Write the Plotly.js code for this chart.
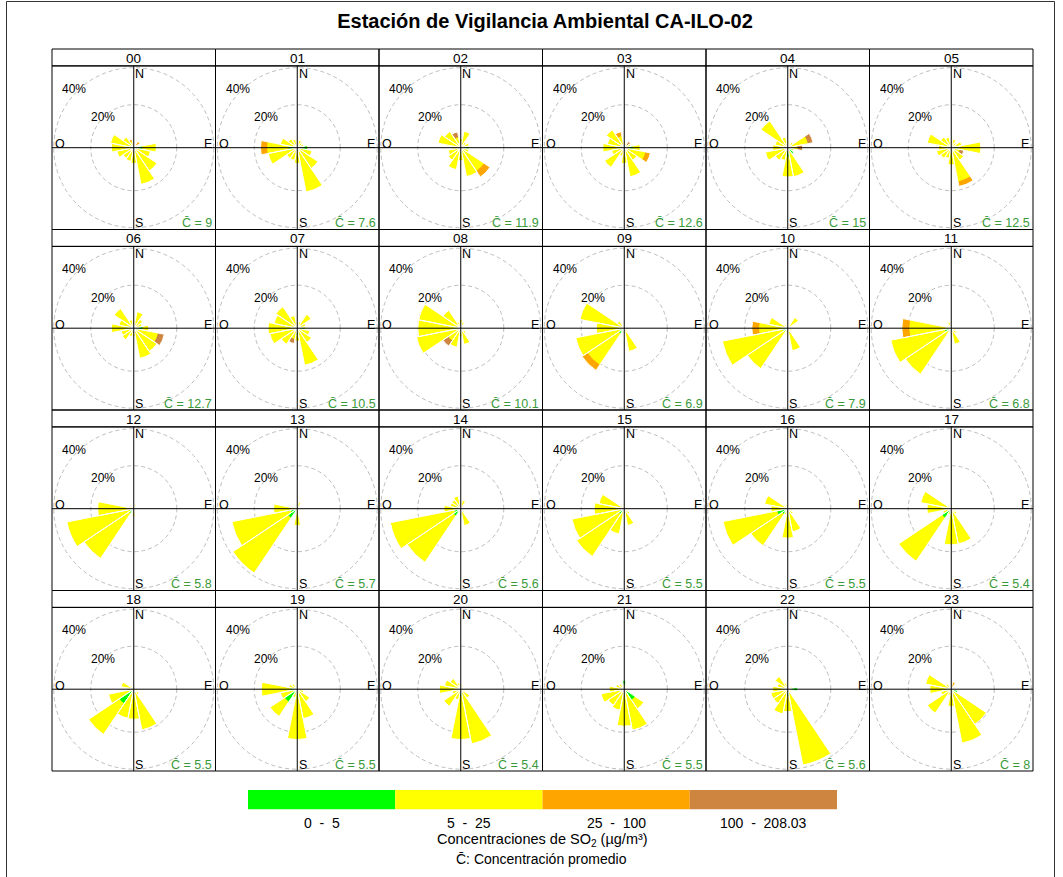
<!DOCTYPE html>
<html><head><meta charset="utf-8">
<script src="https://cdn.plot.ly/plotly-3.0.1.min.js"></script>
<style>html,body{margin:0;padding:0;background:#fff;}#chart{width:1063px;height:877px;}</style>
</head><body><div id="chart"></div>
<script>
// ---------------- DATA ----------------
const titleText = 'Estación de Vigilancia Ambiental CA-ILO-02';
const hours = ['00','01','02','03','04','05','06','07','08','09','10','11','12','13','14','15','16','17','18','19','20','21','22','23'];
// compass bearings of the 16 direction sectors (N, NNE, ... NNW)
const directions = [0,22.5,45,67.5,90,112.5,135,157.5,180,202.5,225,247.5,270,292.5,315,337.5];
const compassLabels = ['N','E','S','O'];
const ringLabels = ['20%','40%'];
const meanConc = [9,7.6,11.9,12.6,15,12.5,12.7,10.5,10.1,6.9,7.9,6.8,5.8,5.7,5.6,5.5,5.5,5.4,5.5,5.5,5.4,5.5,5.6,8];
const classLabels = ['0 - 5','5 - 25','25 - 100','100 - 208.03'];
const unitsText = 'Concentraciones de SO<sub>2</sub> (µg/m³)';
const meanText = 'C\u0304: Concentración promedio';

// frequency (%) per direction, class 0-5
const pctGreen = [
  [0,0,0,0,4,0,0,0,0,0,0,0,0,0,0,0],
  [0,0,0,0,4.5,0,0,0,0,0,0,0,4,0,0,0],
  [0,0,0,0,3.5,0,0,0,0,0,0,0,0,0,0,0],
  [0,0,0,0,3.9,0,0,0,0,0,0,0,0,0,0,0],
  [0,0,0,0,0,2,3.5,0,4,0,0,0,0,0,0,0],
  [0,0,0,0,3,1.5,0,0,0,0,0,0,0,0,0,0],
  [0,0,0,0,4,2,0,0,2,0,0,0,0,0,0,0],
  [0,0,0,0,3,0,0,0,3,0,0,0,0,0,0,0],
  [0,0,0,0,0,0,0,0,0,0,0,0,0,0,0,0],
  [0,0,0,0,0,0,0,0,0,0,3,2,0,0,0,0],
  [0,0,0,0,0,0,0,0,0,0,2,2.5,0,0,0,0],
  [0,0,0,0,0,0,0,0,0,0,2,3,2,0,0,0],
  [0,0,0,0,0,0,0,0,0,0,2.5,2,0,0,0,0],
  [0,0,0,0,0,0,0,0,0,0,5,3,0,0,0,0],
  [0,0,0,0,0,0,0,0,0,0,4,3,0,0,0,0],
  [0,0,0,0,0,0,0,0,0,0,3,2,0,0,0,0],
  [0,0,0,0,0,0,0,0,0,0,3,5,0,0,0,0],
  [0,0,0,0,0,0,0,0,2,0,5,0,0,0,0,0],
  [0,0,0,0,0,0,0,0,0,0,8,0,0,0,0,0],
  [0,0,0,0,0,0,0,0,2,0,7,0,3,0,0,0],
  [0,0,0,0,0,0,0,0,3,0,0,0,0,0,0,0],
  [4,0,0,0,0,0,6,0,0,0,0,0,0,0,0,0],
  [0,0,0,0,4.5,0,0,0,3,0,0,0,0,0,0,0],
  [0,0,0,0,0,3,0,0,0,0,0,0,0,0,0,0]
];
// class 5-25
const pctYellow = [
  [2,1.5,1,2,6.5,8,13,17.4,7.3,6.5,6,8,10.4,11,6,3],
  [2,3.5,3,3,0.5,7,11.6,21,7.3,6,6,13.8,10,8,5,4],
  [4.3,7.8,3,4,0.5,4,13,13.7,6,10.4,7,6,4,10.8,9.1,5],
  [3,2,1.5,3,3.5,10,7,13.8,7.3,4,11,6,10,8,10,5.5],
  [3,2,3,9.5,4.5,1,0,13.8,9.6,6,7,10.6,7,6,15,5],
  [3,4,3,5,10.8,2.5,7,16,8,5,6,7,6,11.4,6,5],
  [3,7.8,5,4,3,9.5,13,14.3,2,4,6.5,6,10.4,7,11,4],
  [3,3,7.8,4,1,6,8,17.6,3,5.2,9,13,13.6,11,12,6],
  [4,3,1,1,1,2,3,7.7,4,9,7,21,20,20,10,3],
  [1,1,1,1,2,1,2,11,2,2,17.5,21,13,21,4,1],
  [1,2,6,1,1,2,2,10.7,2,2,20.6,28.5,13.3,9,2,1],
  [1,1,1,1,1,2,3,7.6,2,2,23.7,25.7,17.5,2,2,3],
  [1,2,1,0.5,0.5,0.5,1,1,3.5,1,25.3,29.7,16.8,2,1,1],
  [1,3,1,0.5,0.5,0.5,1,1,7.8,1,31,28,11,1,1,1],
  [2,4,1,1,1,1,2,8,2,2,26,30.4,7.8,5,5,6],
  [1,1,1,1,1,2,3,8,3,12,23.7,22.8,14,12,2,2],
  [1,1,1,1,1,2,3,11,13.7,3,17.7,25.7,7.8,11,2,2],
  [1,1,1,1,1,2,3,16.7,14.8,3,24.4,4,11.3,14.5,2,1],
  [1,1,1,1,1,2,3,19.3,14,13.8,17.3,12,3,6,2,1],
  [1,1,1,1,1,3,7,14,21.4,4,8.2,8,13.7,4,3,1],
  [2,2,1,1,1,2,5,25.9,20.4,5,9.5,4,10,7.7,6,3],
  [0,2,1,1,1,2,5,19.4,17.2,10,9,11,7,4,3,2],
  [1,1,1,2,0,1,2,36,7.5,11.7,8,8,7,5,7.1,3],
  [1,0,1,1,1,0,19.7,25.6,8,3,13.4,5,10,12.2,3,2]
];
// class 25-100
const pctOrange = [
  [0,0,2.5,0,0,0,0,0,0,0,0,0,0,0,0,1],
  [0,0,0,0,0,0,0,0,0,0,0,0,3.1,0,0,0],
  [0,0,0,0,0,0,3.4,0,0,0,0,0,0,0,0,0],
  [0,0,0,0,0,2.4,0,0,0,0,0,0,0,0,0,2.1],
  [0,0,0,0,0,0,0,0,0,0,0,0,0,0,0,0],
  [0,0,0,0,0,0,0,2.4,0,0,0,0,0,0,0,0],
  [0,0,0,0,0,0,0,0,0,0,0,0,0,0,0,0],
  [0,0,0,0,0,0,0,0,0,0,0,0,0,0,0,0],
  [0,0,0,0,0,0,0,0,0,0,0,0,0,0,0,0],
  [0,0,0,0,0,0,0,0,0,0,3.1,0,0,0,0,0],
  [0,0,0,0,0,0,0,0,0,0,0,0,3.4,0,0,0],
  [0,0,0,0,0,0,0,0,0,0,0,0,3.5,0,0,0],
  [0,0,0,0,0,0,0,0,0,0,0,0,0,0,0,0],
  [0,0,0,0,0,0,0,0,0,0,0,0,0,0,0,0],
  [0,0,0,0,0,0,0,0,0,0,0,0,0,0,0,0],
  [0,0,0,0,0,0,0,0,0,0,0,0,0,0,0,0],
  [0,0,0,0,0,0,0,0,0,0,0,0,0,0,0,0],
  [0,0,0,0,0,0,0,0,0,0,0,0,0,0,0,0],
  [0,0,0,0,0,0,0,0,0,0,0,0,0,0,0,0],
  [0,0,0,0,0,0,0,0,0,0,0,0,0,0,0,0],
  [0,0,0,0,0,0,0,0,0,0,0,0,0,0,0,0],
  [0,0,0,0,0,0,0,0,0,0,0,0,0,0,0,0],
  [0,0,0,0,0,0,0,0,0,0,0,0,0,0,0,0],
  [0,3.5,0,0,0,0,0,0,0,0,0,0,0,0,0,0]
];
// class 100-208.03
const pctBrown = [
  [0,0,0,0,0,0,0,0,0,0,0,0,0,0,0,0],
  [0,0,0,0,0,0,0,0,0,0,0,0,0,0,0,0],
  [0,0,0,0,0,0,0,0,0,0,0,0,0,0,0,2.5],
  [0,0,2,0,0,0,0,0,0,0,0,0,0,0,0,0],
  [0,0,0,2.5,2.5,0,0,0,0,0,0,0,0,0,0,0],
  [0,0,0,0,0,2,0,0,0,0,0,0,0,0,0,0],
  [0,0,0,0,0,3,0,0,0,0,0,0,0,0,0,0],
  [0,0,0,0,0,0,0,0,0,2.1,0,0,0,0,0,0],
  [0,0,0,0,0,0,0,0,0,0,3,0,0,0,0,0],
  [0,0,0,0,0,0,0,0,0,0,0,0,0,0,0,0],
  [0,0,0,0,0,0,0,0,0,0,0,0,0,0,0,0],
  [0,0,0,0,0,0,0,0,0,0,0,0,0,0,0,0],
  [0,0,0,0,0,0,0,0,0,0,0,0,0,0,0,0],
  [0,0,0,0,0,0,0,0,0,0,0,0,0,0,0,0],
  [0,0,0,0,0,0,0,0,0,0,0,0,0,0,0,0],
  [0,0,0,0,0,0,0,0,0,0,0,0,0,0,0,0],
  [0,0,0,0,0,0,0,0,0,0,0,0,0,0,0,0],
  [0,0,0,0,0,0,0,0,0,0,0,0,0,0,0,0],
  [0,0,0,0,0,0,0,0,0,0,0,0,0,0,0,0],
  [0,0,0,0,0,0,0,0,0,0,0,0,0,0,0,0],
  [0,0,0,0,0,0,0,0,0,0,0,0,0,0,0,0],
  [0,0,0,0,0,0,0,0,0,0,0,0,0,0,0,0],
  [0,0,0,0,0,0,0,0,0,0,0,0,0,0,0,0],
  [0,0,0,0,0,0,0,0,0,0,0,0,0,0,0,0]
];

// ---------------- STYLE / LAYOUT ----------------
const classColors = ['#00ff00','#ffff00','#ffa500','#cd853f'];
const FONT = 'Liberation Sans, Arial, sans-serif';
const W = 1063, H = 877;
const gridLeft = 52, colW = 163.5, gridTop = 49, headH = 16.9, plotH = 163.6;
const rowStep = headH + plotH;
const pxPerPct = 2.15;
const rMax = (Math.min(colW, plotH) / 2) / pxPerPct;
const outerRing = 80 / pxPerPct;
const px = x => x / W, py = y => 1 - y / H;

const data = [], shapes = [], annotations = [];
const layout = {
  width: W, height: H,
  margin: {l:0, r:0, t:0, b:0},
  paper_bgcolor: '#ffffff', plot_bgcolor: '#ffffff',
  showlegend: false,
  font: {family: FONT, color: '#000'},
  title: {text: titleText, font: {family: FONT, size: 20, color: '#000', weight: 700},
          x: 545/W, xanchor: 'center', xref: 'paper', y: 1 - 20.5/H, yanchor: 'middle', yref: 'container'}
};

function ann(text, x, y, xa, ya, size, color) {
  annotations.push({text, x: px(x), y: py(y), xref: 'paper', yref: 'paper', xanchor: xa, yanchor: ya,
    showarrow: false, font: {family: FONT, size, color: color || '#000'}, borderpad: 0});
}
const line = (x0,y0,x1,y1,color,width) => shapes.push({type:'line', xref:'paper', yref:'paper',
  x0: px(x0), y0: py(y0), x1: px(x1), y1: py(y1), line: {color, width}});
const rect = (x0,y0,x1,y1,lineColor,fill) => shapes.push({type:'rect', xref:'paper', yref:'paper',
  x0: px(x0), y0: py(y0), x1: px(x1), y1: py(y1), line: {color: lineColor || 'rgba(0,0,0,0)', width: lineColor ? 1 : 0},
  fillcolor: fill || 'rgba(0,0,0,0)', layer: 'above'});

// outer frame
rect(6.5, 1.5, 1054.5, 900, '#333');

const widths = directions.map(() => 22.5);
hours.forEach((h, i) => {
  const c = i % 6, r = Math.floor(i / 6);
  const x0 = gridLeft + c * colW, x1 = x0 + colW;
  const hy0 = gridTop + r * rowStep, py0 = hy0 + headH, py1 = py0 + plotH;
  const cx = (x0 + x1) / 2, cy = (py0 + py1) / 2;
  const key = i === 0 ? 'polar' : 'polar' + (i + 1);
  layout[key] = {
    domain: {x: [px(x0), px(x1)], y: [py(py1), py(py0)]},
    bgcolor: 'rgba(0,0,0,0)',
    barmode: 'overlay',
    radialaxis: {range: [0, rMax], tickvals: [20, outerRing], showticklabels: false, ticks: '',
      showline: false, showgrid: true, gridcolor: '#bdbdbd', gridwidth: 1, griddash: '4px,3px'},
    angularaxis: {rotation: 90, direction: 'clockwise', showgrid: false, showticklabels: false,
      ticks: '', showline: false}
  };
  const G = pctGreen[i], Y = pctYellow[i], O = pctOrange[i], B = pctBrown[i];
  const cumGY = G.map((g, k) => g + Y[k]);
  const cumGYO = cumGY.map((v, k) => v + O[k]);
  const cumAll = cumGYO.map((v, k) => v + B[k]);
  const segs = [
    [cumAll.map((v, k) => B[k] > 0 ? v : 0), classColors[3]],
    [cumGYO.map((v, k) => O[k] > 0 ? v : 0), classColors[2]],
    [cumGY.map((v, k) => Y[k] > 0 ? v : 0), classColors[1]],
    [G.slice(), classColors[0]]
  ];
  segs.forEach(([rr, col]) => data.push({type: 'barpolar', subplot: key, r: rr, theta: directions,
    width: widths, marker: {color: col, line: {width: 0}}, hoverinfo: 'skip', showlegend: false}));
  data.push({type: 'barpolar', subplot: key, r: cumAll, theta: directions, width: widths,
    marker: {color: 'rgba(0,0,0,0)', line: {color: '#ffffff', width: 1}}, hoverinfo: 'skip', showlegend: false});

  // panel frames
  rect(x0, hy0, x1, py0, '#000');
  rect(x0, py0, x1, py1, '#000');
  // cross axes on top of petals
  line(cx, py0, cx, py1, '#000', 1);
  line(x0, cy, x1, cy, '#000', 1);

  // texts
  ann(h, cx, hy0 + headH / 2 + 0.6, 'center', 'middle', 13.5);
  ann(compassLabels[0], cx + 0.5, py0 + 7.6, 'left', 'middle', 12.5);
  ann(compassLabels[2], cx + 0.5, py1 - 6.3, 'left', 'middle', 12.5);
  ann(compassLabels[3], x0 + 2, cy - 3.6, 'left', 'middle', 12.5);
  ann(compassLabels[1], x1 - 3, cy - 3.6, 'right', 'middle', 12.5);
  ann(ringLabels[0], cx - 31, cy - 30.5, 'center', 'middle', 12);
  ann(ringLabels[1], cx - 59.6, cy - 59, 'center', 'middle', 12);
  ann('C\u0304 = ' + meanConc[i], x1 - 2.5, py1 - 6.5, 'right', 'middle', 12.5, '#3a9a3a');
});

// legend colour bar
const legX0 = 248, legW = 589 / 4, legY0 = 790, legY1 = 809.3;
classColors.forEach((col, k) => {
  rect(legX0 + k * legW, legY0, legX0 + (k + 1) * legW, legY1, null, col);
  const lbl = classLabels[k].replace(/ - /, '\u00a0\u00a0-\u00a0\u00a0');
  ann(lbl, legX0 + (k + 0.5) * legW, 822.7, 'center', 'middle', 14);
});
ann(unitsText, 542, 840, 'center', 'middle', 14.5);
ann(meanText, 541, 859, 'center', 'middle', 14);

layout.shapes = shapes;
layout.annotations = annotations;
Plotly.newPlot('chart', data, layout, {displayModeBar: false, staticPlot: true});
</script>
</body></html>
